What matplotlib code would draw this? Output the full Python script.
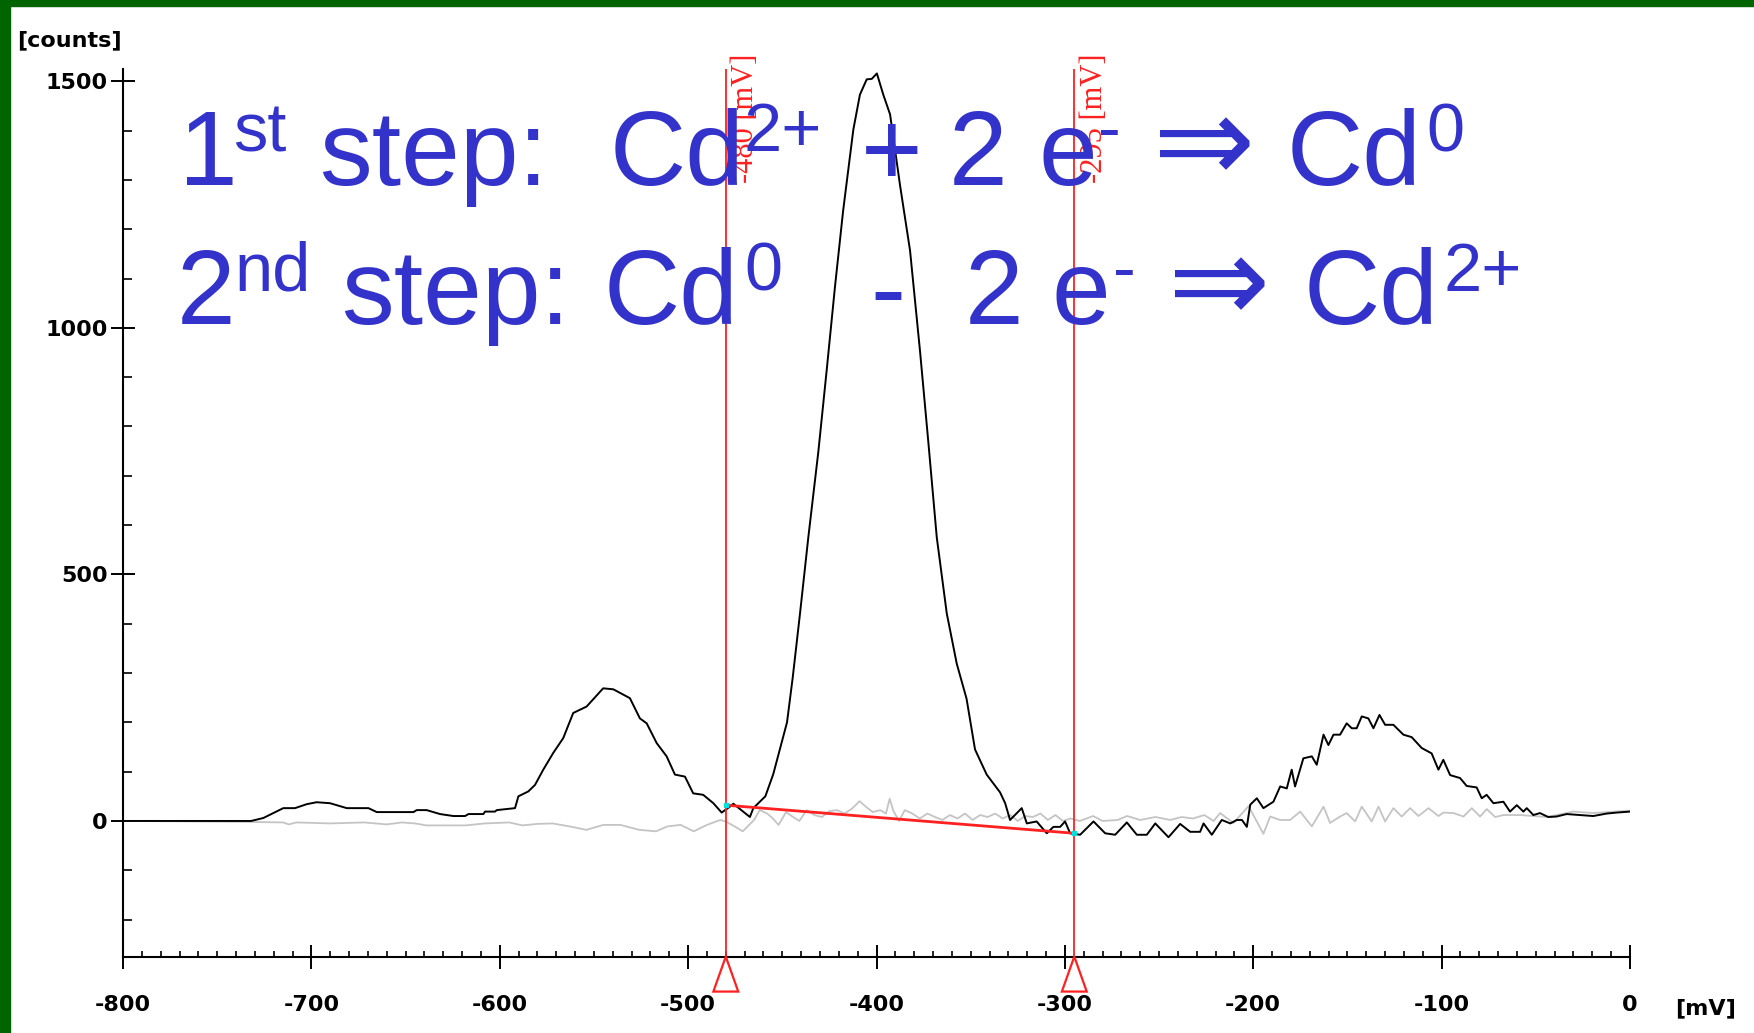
import matplotlib
matplotlib.use("Agg")
import matplotlib.pyplot as plt
from matplotlib.patches import Rectangle, Polygon
from matplotlib.ticker import MultipleLocator, FixedLocator

plt.rcParams['axes.unicode_minus'] = False

# --- data (mV, counts) ---
black_mv = [-800, -732, -725.5, -714.9, -708.7, -702.5, -697.2, -690.1, -681.2, -669.7,
            -665.3, -645.8, -644.1, -638.8, -631.7, -624.6, -618.4, -616.6, -608.7, -607.8,
            -602.5, -601.6, -591.9, -590.1, -584.8, -581.3, -576.9, -571.6, -566.3, -561,
            -553.9, -545.1, -539.7, -530.9, -525.6, -522, -516.7, -511.4, -507, -501.7,
            -497.3, -492, -486.6, -482.2, -477.8, -476, -467.2, -465.4, -459, -454.8,
            -451, -447.5, -444.5, -440.6, -436.2, -430.9, -426.5, -422, -417.7, -412.3,
            -408.8, -405.2, -402.5, -399.8, -396.4, -392.8, -387.5, -382.2, -376.9, -372.5,
            -368, -362.7, -357.4, -352.2, -347.7, -341.5, -334.4, -331.7, -329.1, -322.9,
            -320.2, -315, -309.6, -306.1, -302.5, -299.9, -297.2, -291.9, -284.8, -278.6,
            -273.3, -267.1, -261.8, -256.5, -252, -245, -238.8, -233.5, -228.2, -226.4,
            -222, -216.7, -212.2, -208.7, -206, -203.4, -201.6, -198.1, -194.6, -189.3,
            -185.7, -182.2, -179.6, -177.8, -173.4, -168.9, -166.3, -162.7, -160.1, -157.4,
            -153.9, -150.4, -147.7, -145.1, -142.4, -138.9, -136.2, -133, -130, -125.6,
            -120.3, -115.9, -110.6, -105.3, -101.7, -99.1, -95.5, -90.2, -86.7, -81.4,
            -78.7, -76.1, -72.5, -67.2, -63.7, -60.1, -56.6, -54.8, -51.3, -47.8,
            -43.4, -39, -33.6, -26.6, -19.5, -12.4, -7.1, 0]
black_ct = [0, 0, 6, 26, 26, 34, 38, 36, 26, 26,
            18, 18, 22, 22, 14, 10, 10, 14, 14, 19,
            19, 22, 26, 50, 60, 73, 104, 138, 168, 219,
            232, 269, 267, 249, 208, 198, 158, 131, 94, 90,
            56, 53, 36, 17, 29, 35, 8, 26, 50, 95,
            150, 200, 290, 421, 575, 748, 912, 1085, 1238, 1402,
            1473, 1504, 1505, 1516, 1473, 1433, 1289, 1157, 953, 769,
            575, 421, 319, 248, 145, 94, 58, 36, 2, 26,
            -5, -1, -25, -12, -12, -1, -25, -28, -1, -25,
            -28, -3, -28, -28, -5, -33, -6, -22, -22, -5,
            -28, 2, -5, 2, 2, -12, 33, 46, 26, 39,
            70, 66, 104, 70, 127, 131, 114, 175, 154, 175,
            175, 198, 188, 188, 212, 208, 188, 215, 195, 195,
            175, 170, 148, 137, 104, 124, 93, 87, 71, 68,
            46, 53, 36, 39, 19, 32, 19, 26, 12, 16,
            8, 9, 14, 12, 10, 15, 17, 19]

gray_mv = [-800, -732, -715, -712, -708, -690, -672, -660, -652, -645,
           -639, -618, -608, -595, -588, -580, -572, -563, -554, -545,
           -536, -526, -517, -511, -504, -497, -490, -483, -480, -474,
           -471, -465, -462, -458, -455, -452, -448, -445, -441, -437,
           -433, -429, -425, -421, -417, -413, -409, -406, -402, -398,
           -395, -393, -391, -388, -385, -381, -377, -373, -369, -365,
           -361, -357, -353, -349, -345, -341, -337, -333, -329, -325,
           -321, -317, -313, -309, -305, -301, -297, -292, -285, -280,
           -272, -267, -260, -252, -244, -238, -232, -226, -221, -217.6,
           -210.5, -202.5, -194.6, -191, -185.7, -180.4, -175.1, -168.9, -162.7, -159.2,
           -153.9, -150.4, -145.9, -142.4, -137.1, -133.5, -130, -125.6, -121.2, -116.7,
           -112.3, -107, -101.7, -99, -93.7, -88.4, -84, -79.6, -76, -71.6,
           -67.2, -58.3, -51.3, -44.2, -30, -19.4, 0]
gray_ct = [0, -2, -3, -7, -3, -5, -3, -7, -3, -5,
           -9, -9, -5, -3, -9, -6, -5, -11, -18, -8,
           -8, -18, -21, -11, -8, -21, -8, 2, -1, -14,
           -21, 2, 22, 15, 5, -8, 18, 10, 0, 22,
           12, 8, 20, 22, 15, 25, 40, 30, 18, 22,
           15, 45, 20, 0, 22, 15, 5, 15, 8, 2,
           12, 5, 15, 2, 12, 8, 15, 5, 12, 0,
           10, 8, 15, 2, 12, 0, 5, 0, 10, 0,
           2, 10, 2, 8, 2, 8, 5, 12, 0, 16,
           -4, 30, -26, 9, 2, 2, 19, -11, 29, -4,
           9, 16, -1, 29, -1, 29, -1, 26, 9, 26,
           10, 26, 10, 17, 16, 9, 26, 9, 24, 8,
           12, 12, 10, 8, 19, 16, 21]

# integration cursors and baseline
cursor_mv = [-480, -295]
cursor_labels = ['-480 [mV]', '-295 [mV]']
baseline_ct = [32, -25]

x_ticks = list(range(-800, 1, 100))
y_ticks = [0, 500, 1000, 1500]
y_minor = list(range(-200, 1501, 100))

blue = '#3333CC'
tick_fams = ['Liberation Sans Narrow', 'DejaVu Sans']

fig = plt.figure(figsize=(17.54, 10.33), dpi=100)
fig.patch.set_facecolor('white')
W, H = 1754.0, 1033.0

# green frame (top and left)
fig.add_artist(Rectangle((0, 1 - 6 / H), 1, 6 / H, transform=fig.transFigure,
                         color='#006400', zorder=10))
fig.add_artist(Rectangle((0, 0), 10 / W, 1, transform=fig.transFigure,
                         color='#006400', zorder=10))

ax = fig.add_axes([123 / W, 0.074, (1630 - 123) / W, 0.8592])
ax.patch.set_alpha(0)
ax.set_xlim(-800, 0)
ax.set_ylim(-275, 1525)

ax.plot(gray_mv, gray_ct, color='#c4c4c4', lw=1.3, zorder=3)
ax.plot(black_mv, black_ct, color='black', lw=1.4, zorder=4)

# cursors
for xc in cursor_mv:
    ax.axvline(xc, color='#ff2020', lw=1.3, zorder=5)
    tri = Polygon([(xc, -275), (xc - 6.6, -346), (xc + 6.6, -346)], closed=True,
                  facecolor='white', edgecolor='#ff2020', lw=1.6, clip_on=False, zorder=6)
    ax.add_patch(tri)
for xc, lab in zip(cursor_mv, cursor_labels):
    ax.text(xc + 10.6, 1426, lab, rotation=90, ha='center', va='center',
            color='#ff2020', fontsize=22, family=['Liberation Serif', 'DejaVu Serif'], zorder=6)

ax.plot(cursor_mv, baseline_ct, color='#ff2020', lw=2, zorder=5)
ax.plot(cursor_mv, baseline_ct, ls='none', marker='s', ms=2.5, color='#00e0e0', zorder=6)

# axes styling
for s in ['top', 'right']:
    ax.spines[s].set_visible(False)
for s in ['left', 'bottom']:
    ax.spines[s].set_linewidth(1.5)

ax.xaxis.set_major_locator(FixedLocator(x_ticks))
ax.xaxis.set_minor_locator(MultipleLocator(10))
ax.yaxis.set_major_locator(FixedLocator(y_ticks))
ax.yaxis.set_minor_locator(FixedLocator(y_minor))
ax.tick_params(which='major', direction='inout', length=17, width=1.4, labelsize=16)
ax.tick_params(axis='x', which='major', pad=19)
ax.tick_params(axis='y', which='major', pad=2.5)
ax.tick_params(axis='x', which='minor', direction='in', length=4.5, width=1.2)
ax.tick_params(axis='y', which='minor', direction='in', length=6.5, width=1.2)
for lab in ax.get_xticklabels() + ax.get_yticklabels():
    lab.set_family(tick_fams)
    lab.set_fontweight('bold')

fig.text(17 / W, 1 - 40 / H, '[counts]', ha='left', va='center', fontsize=16,
         fontweight='bold', family=tick_fams)
fig.text(1706 / W, 1 - 1008 / H, '[mV]', ha='center', va='center', fontsize=16,
         fontweight='bold', family=tick_fams)

# reaction overlay text, pieces placed left to right (display x, text, superscript?)
line1 = [(160, '1', False), (208, 'st', True), (285, 'step:', False), (545, 'Cd', False),
         (665, '2+', True), (770, '+', False), (848, '2', False), (928, 'e', False),
         (982, '-', True), (1030, '\u21d2', False), (1150, 'Cd', False), (1275, '0', True)]
line2 = [(158, '2', False), (210, 'nd', True), (305, 'step:', False), (540, 'Cd', False),
         (665, '0', True), (778, '-', False), (862, '2', False), (940, 'e', False),
         (995, '-', True), (1043, '\u21d2', False), (1165, 'Cd', False), (1290, '2+', True)]
big = 76
scale = W / 1568.0
for pieces, base in [(line1, 165), (line2, 290)]:
    for xd, txt, sup in pieces:
        yb = base - 30 if sup else base
        fs = big * 0.65 if sup else big
        if txt == '\u21d2':
            fs = 88
            yb = base - 2
        fig.text(xd * scale / W, 1 - yb * scale / H, txt, ha='left', va='baseline',
                 fontsize=fs, color=blue, family=['Liberation Sans', 'DejaVu Sans'], zorder=2)

fig.savefig('out.png', dpi=100)
